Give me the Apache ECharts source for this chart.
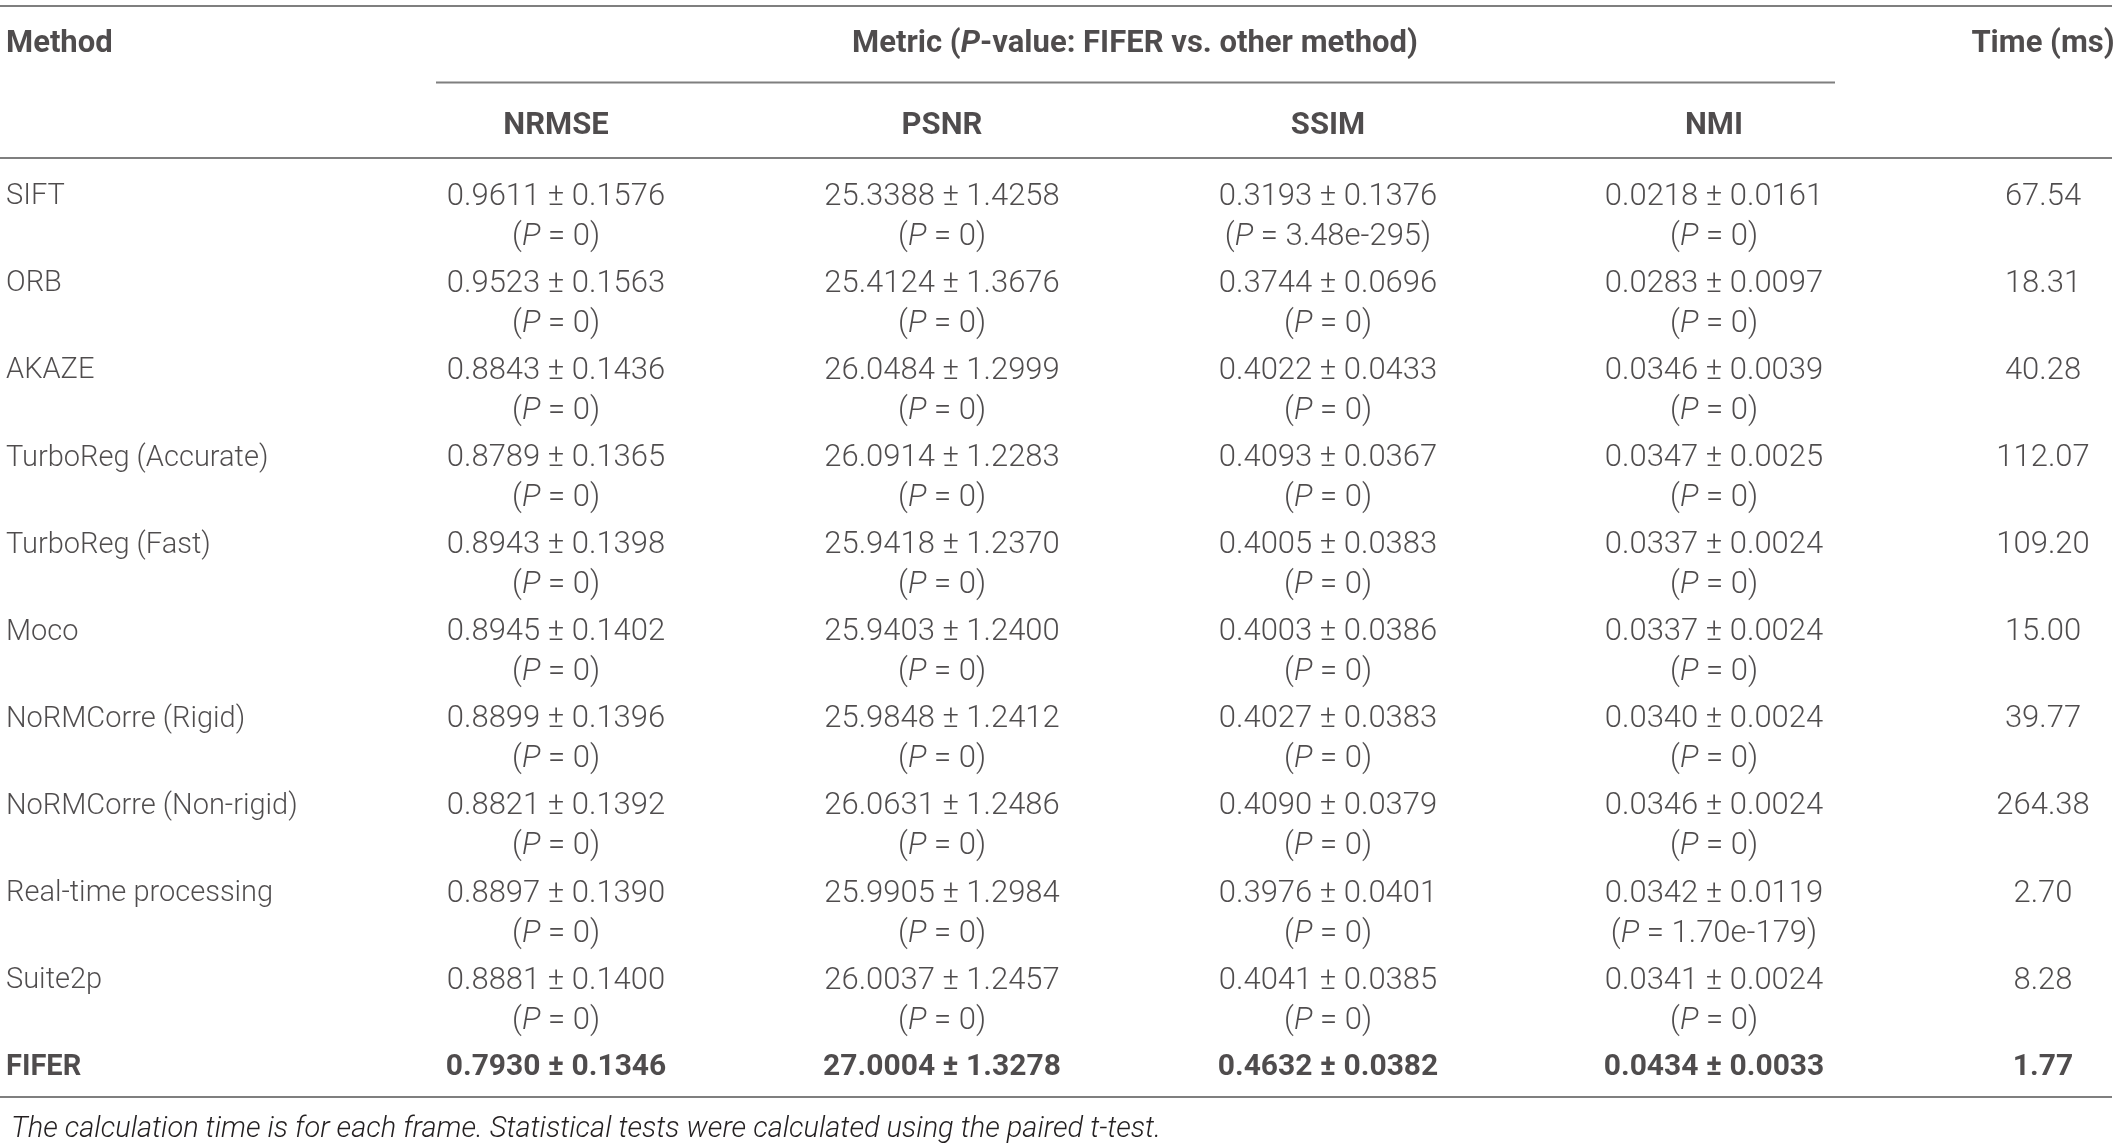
<!DOCTYPE html>
<html>
<head>
<meta charset="utf-8">
<title>FIFER comparison table</title>
<script src="https://cdn.jsdelivr.net/npm/echarts@6/dist/echarts.min.js"></script>
<style>
  html, body { margin: 0; padding: 0; background: #fff; }
  #table-chart { width: 2118px; height: 1146px; }
</style>
</head>
<body>
<div id="table-chart"></div>
<script>
var columns = ['Method', 'NRMSE', 'PSNR', 'SSIM', 'NMI', 'Time (ms)'];
var methods = ['SIFT', 'ORB', 'AKAZE', 'TurboReg (Accurate)', 'TurboReg (Fast)', 'Moco',
    'NoRMCorre (Rigid)', 'NoRMCorre (Non-rigid)', 'Real-time processing', 'Suite2p', 'FIFER'];

var nrmseMean = [0.9611, 0.9523, 0.8843, 0.8789, 0.8943, 0.8945, 0.8899, 0.8821, 0.8897, 0.8881, 0.7930];
var nrmseSd   = [0.1576, 0.1563, 0.1436, 0.1365, 0.1398, 0.1402, 0.1396, 0.1392, 0.1390, 0.1400, 0.1346];
var nrmseP    = ['0', '0', '0', '0', '0', '0', '0', '0', '0', '0', null];

var psnrMean = [25.3388, 25.4124, 26.0484, 26.0914, 25.9418, 25.9403, 25.9848, 26.0631, 25.9905, 26.0037, 27.0004];
var psnrSd   = [1.4258, 1.3676, 1.2999, 1.2283, 1.2370, 1.2400, 1.2412, 1.2486, 1.2984, 1.2457, 1.3278];
var psnrP    = ['0', '0', '0', '0', '0', '0', '0', '0', '0', '0', null];

var ssimMean = [0.3193, 0.3744, 0.4022, 0.4093, 0.4005, 0.4003, 0.4027, 0.4090, 0.3976, 0.4041, 0.4632];
var ssimSd   = [0.1376, 0.0696, 0.0433, 0.0367, 0.0383, 0.0386, 0.0383, 0.0379, 0.0401, 0.0385, 0.0382];
var ssimP    = ['3.48e-295', '0', '0', '0', '0', '0', '0', '0', '0', '0', null];

var nmiMean = [0.0218, 0.0283, 0.0346, 0.0347, 0.0337, 0.0337, 0.0340, 0.0346, 0.0342, 0.0341, 0.0434];
var nmiSd   = [0.0161, 0.0097, 0.0039, 0.0025, 0.0024, 0.0024, 0.0024, 0.0024, 0.0119, 0.0024, 0.0033];
var nmiP    = ['0', '0', '0', '0', '0', '0', '0', '0', '1.70e-179', '0', null];

var timeMs = [67.54, 18.31, 40.28, 112.07, 109.20, 15.00, 39.77, 264.38, 2.70, 8.28, 1.77];

var boldRow = 'FIFER';
var footnote = 'The calculation time is for each frame. Statistical tests were calculated using the paired t-test.';

// ---- styling ----
var ink = '#231f20';
var ruleColor = '#7f7f7f';
var fontFamily = 'Roboto, "Liberation Sans", Arial, sans-serif';
function txtStyle(size, weight, italic) {
    return { fontFamily: fontFamily, fontSize: size, fontWeight: weight,
        fontStyle: italic ? 'italic' : 'normal', color: ink, lineHeight: 40 };
}
var rich = {
    r:  txtStyle(31, 300, false),
    ri: txtStyle(31, 300, true),
    b:  txtStyle(30, 'bold', false),
    bi: txtStyle(30, 'bold', true),
    h:  txtStyle(31, 'bold', false),
    hi: txtStyle(31, 'bold', true),
    m:  txtStyle(29, 300, false),
    mb: txtStyle(29, 'bold', false)
};
// horizontal nudges per column (method text is left aligned, time sits a bit inward)
var colShift = [-164, 0, 0, 0, 0, -57];
var nudgeY = 3;

var metricSets = [
    [nrmseMean, nrmseSd, nrmseP],
    [psnrMean, psnrSd, psnrP],
    [ssimMean, ssimSd, ssimP],
    [nmiMean, nmiSd, nmiP]
];

function cellText(row, col) {
    var bold = methods[row] === boldRow;
    var s = bold ? 'b' : 'r';
    if (col === 0) return '{' + (bold ? 'mb' : 'm') + '|' + methods[row] + '}';
    if (col === 5) return '{' + s + '|' + timeMs[row].toFixed(2) + '}';
    var set = metricSets[col - 1];
    var txt = '{' + s + '|' + set[0][row].toFixed(4) + ' \u00b1 ' + set[1][row].toFixed(4) + '}';
    if (set[2][row] !== null) {
        txt += '\n{' + s + '|(}{' + (bold ? 'bi' : 'ri') + '|P}{' + s + '| = ' + set[2][row] + ')}';
    }
    return txt;
}

var bodyData = [];
methods.forEach(function (m, r) {
    for (var c = 0; c < columns.length; c++) {
        bodyData.push({
            value: [c, r],
            label: {
                formatter: cellText(r, c),
                align: c === 0 ? 'left' : 'center',
                offset: [colShift[c], -20 + nudgeY]
            }
        });
    }
});

var headData = [
    { value: [0, 0], label: { formatter: '{h|' + columns[0] + '}', align: 'left', offset: [colShift[0], nudgeY - 1] } },
    { value: [(1 + 4) / 2, 0], label: { formatter: '{h|Metric (}{hi|P}{h|-value: FIFER vs. other method)}', align: 'center', offset: [0, nudgeY - 1] } },
    { value: [5, 0], label: { formatter: '{h|' + columns[5] + '}', align: 'center', offset: [colShift[5], nudgeY - 1] } }
];
for (var c = 1; c <= 4; c++) {
    headData.push({ value: [c, 1], label: { formatter: '{h|' + columns[c] + '}', align: 'center', offset: [0, nudgeY] } });
}

var chartDom = document.getElementById('table-chart');
var chart = echarts.init(chartDom, null, { renderer: 'canvas' });

// column index -> pixels: 386 px per column, NRMSE column centred at x=556
var xMin = 1 - 556 / 386;
var xMax = xMin + 2118 / 386;
function hiddenX(gi) {
    return { type: 'value', gridIndex: gi, min: xMin, max: xMax, show: false };
}

var option = {
    backgroundColor: '#fff',
    animation: false,
    title: {
        text: footnote,
        left: 6,
        top: 1110,
        textStyle: { fontFamily: fontFamily, fontSize: 29, fontWeight: 300, fontStyle: 'italic', color: ink }
    },
    grid: [
        { left: 0, right: 0, top: 1.5, height: 162 },
        { left: 0, right: 0, top: 150.5, height: 958 }
    ],
    xAxis: [hiddenX(0), hiddenX(1)],
    yAxis: [
        { type: 'category', gridIndex: 0, inverse: true, data: ['head', 'sub'], show: false },
        { type: 'category', gridIndex: 1, inverse: true, data: methods, show: false }
    ],
    series: [
        {
            type: 'scatter', xAxisIndex: 0, yAxisIndex: 0, symbolSize: 0, silent: true,
            label: { show: true, position: 'inside', verticalAlign: 'middle', rich: rich },
            data: headData
        },
        {
            type: 'scatter', xAxisIndex: 1, yAxisIndex: 1, symbolSize: 0, silent: true,
            label: { show: true, position: 'inside', verticalAlign: 'top', rich: rich },
            data: bodyData
        }
    ],
    graphic: [
        { type: 'line', shape: { x1: 0, y1: 6, x2: 2112, y2: 6 }, style: { stroke: ruleColor, lineWidth: 2 } },
        { type: 'line', shape: { x1: 436, y1: 82.5, x2: 1835, y2: 82.5 }, style: { stroke: ruleColor, lineWidth: 2 } },
        { type: 'line', shape: { x1: 0, y1: 158, x2: 2112, y2: 158 }, style: { stroke: ruleColor, lineWidth: 2 } },
        { type: 'line', shape: { x1: 0, y1: 1097, x2: 2112, y2: 1097 }, style: { stroke: ruleColor, lineWidth: 2 } }
    ]
};
chart.setOption(option);
window.addEventListener('resize', chart.resize);
</script>
</body>
</html>
